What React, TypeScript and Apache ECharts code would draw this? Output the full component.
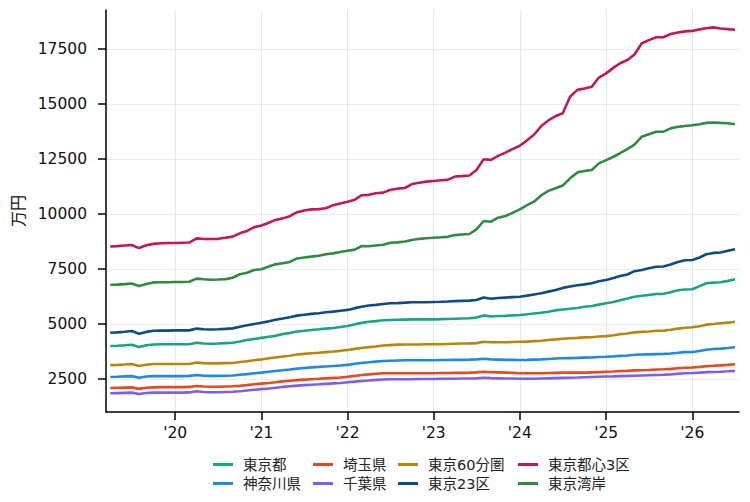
import { useEffect, useRef } from 'react'
import * as echarts from 'echarts'

// monthly series, 2019-04 .. 2026-07 (88 months)
const months = Array.from({ length: 88 }, (_, i) => Date.UTC(2019, 3 + i, 1))

const xTickYears = [2020, 2021, 2022, 2023, 2024, 2025, 2026]
const yTicks = [2500, 5000, 7500, 10000, 12500, 15000, 17500]

const tokyo = [
  4000, 4010, 4030, 4060, 3950, 4030, 4070, 4080, 4080, 4080, 4080, 4080,
  4150, 4110, 4100, 4110, 4130, 4150, 4200, 4270, 4320, 4370, 4420, 4460,
  4540, 4590, 4660, 4690, 4730, 4760, 4790, 4820, 4860, 4910, 4990, 5050,
  5100, 5130, 5170, 5180, 5190, 5200, 5210, 5210, 5210, 5210, 5220, 5230,
  5240, 5250, 5260, 5290, 5390, 5340, 5360, 5370, 5390, 5410, 5440, 5480,
  5510, 5560, 5620, 5660, 5690, 5730, 5780, 5820, 5880, 5940, 6000, 6080,
  6160, 6240, 6280, 6320, 6360, 6370, 6440, 6530, 6570, 6580, 6720, 6850,
  6880, 6900, 6960, 7030,
]
const kanagawa = [
  2590, 2600, 2620, 2630, 2560, 2610, 2630, 2630, 2630, 2630, 2630, 2640,
  2680, 2650, 2640, 2640, 2650, 2660, 2690, 2720, 2760, 2790, 2830, 2860,
  2900, 2930, 2970, 3000, 3030, 3050, 3070, 3090, 3110, 3140, 3190, 3230,
  3260, 3290, 3320, 3330, 3340, 3350, 3350, 3350, 3350, 3350, 3360, 3360,
  3370, 3370, 3380, 3390, 3420, 3390, 3380, 3370, 3370, 3360, 3370, 3380,
  3390, 3410, 3430, 3440, 3450, 3460, 3470, 3480, 3500, 3510, 3530, 3550,
  3570, 3600, 3610, 3620, 3630, 3640, 3660, 3690, 3720, 3730, 3770, 3830,
  3860, 3880, 3910, 3940,
]
const saitama = [
  2090, 2100, 2110, 2120, 2050, 2100, 2120, 2130, 2130, 2130, 2130, 2140,
  2180, 2160, 2150, 2150, 2160, 2170, 2190, 2220, 2260, 2290, 2320, 2350,
  2390, 2420, 2450, 2470, 2490, 2510, 2530, 2550, 2570, 2600, 2640, 2680,
  2710, 2740, 2760, 2760, 2760, 2760, 2760, 2760, 2760, 2760, 2770, 2770,
  2780, 2780, 2790, 2800, 2830, 2810, 2800, 2790, 2780, 2760, 2760, 2760,
  2760, 2770, 2780, 2790, 2790, 2790, 2790, 2800, 2810, 2830, 2840, 2860,
  2870, 2890, 2900, 2910, 2930, 2940, 2960, 2990, 3010, 3020, 3050, 3080,
  3100, 3120, 3140, 3170,
]
const chiba = [
  1850, 1860, 1870, 1880, 1820, 1860, 1880, 1880, 1880, 1880, 1880, 1890,
  1940, 1910, 1900, 1900, 1910, 1920, 1940, 1980, 2010, 2040, 2070, 2100,
  2140, 2170, 2200, 2220, 2240, 2260, 2280, 2300, 2320, 2350, 2380, 2410,
  2430, 2460, 2480, 2490, 2490, 2490, 2490, 2500, 2500, 2500, 2510, 2510,
  2510, 2520, 2520, 2530, 2560, 2540, 2530, 2520, 2520, 2510, 2510, 2510,
  2520, 2530, 2540, 2550, 2560, 2570, 2580, 2590, 2600, 2610, 2620, 2630,
  2640, 2650, 2660, 2670, 2680, 2690, 2710, 2740, 2760, 2770, 2790, 2810,
  2820, 2830, 2850, 2870,
]
const tokyo60 = [
  3130, 3140, 3160, 3180, 3090, 3150, 3180, 3180, 3180, 3180, 3180, 3180,
  3250, 3220, 3210, 3210, 3220, 3230, 3270, 3310, 3350, 3390, 3440, 3480,
  3520, 3560, 3610, 3640, 3670, 3690, 3720, 3750, 3780, 3820, 3870, 3910,
  3950, 3980, 4020, 4040, 4060, 4070, 4070, 4070, 4080, 4080, 4080, 4090,
  4100, 4110, 4120, 4130, 4190, 4170, 4170, 4170, 4180, 4190, 4200, 4220,
  4240, 4270, 4300, 4330, 4350, 4370, 4390, 4400, 4430, 4450, 4490, 4530,
  4570, 4620, 4640, 4660, 4690, 4700, 4740, 4790, 4830, 4850, 4900, 4970,
  5000, 5030, 5060, 5100,
]
const tokyo23 = [
  4600, 4620, 4650, 4680, 4560, 4640, 4690, 4700, 4700, 4710, 4710, 4710,
  4790, 4760, 4750, 4760, 4780, 4800, 4870, 4940, 5000, 5060, 5120, 5190,
  5250, 5310, 5380, 5420, 5460, 5490, 5530, 5560, 5600, 5640, 5720, 5780,
  5840, 5870, 5910, 5940, 5950, 5970, 5990, 5990, 5990, 6000, 6010, 6020,
  6040, 6050, 6060, 6090, 6200, 6150, 6180, 6200, 6220, 6240, 6290, 6340,
  6400, 6470, 6540, 6640, 6700, 6760, 6800, 6850, 6940, 7000, 7090, 7180,
  7250, 7400, 7450, 7530, 7600, 7610, 7700, 7820, 7900, 7910, 8020, 8170,
  8230, 8250, 8330, 8400,
]
const central3 = [
  8520, 8540, 8570, 8590, 8450, 8580, 8640, 8670, 8680, 8680, 8690, 8700,
  8890, 8860, 8860, 8870, 8920, 8970, 9120, 9230, 9400, 9480, 9600, 9730,
  9800, 9900, 10080, 10160, 10210, 10220, 10260, 10400, 10480, 10560, 10650, 10850,
  10870, 10940, 10970, 11100, 11150, 11180, 11360, 11420, 11470, 11500, 11530, 11550,
  11700, 11720, 11750, 12000, 12490, 12460, 12640, 12790, 12950, 13100, 13350, 13600,
  14000, 14250, 14450, 14580, 15330, 15640, 15700, 15780, 16200, 16390, 16650, 16850,
  17000, 17250, 17760, 17900, 18030, 18030, 18180, 18250, 18300, 18320, 18390, 18440,
  18480, 18430, 18400, 18370,
]
const bay = [
  6780, 6790, 6810, 6840, 6730, 6820, 6890, 6900, 6900, 6910, 6910, 6920,
  7060, 7030, 7010, 7020, 7040, 7100, 7260, 7330, 7450, 7490, 7610, 7710,
  7760, 7820, 7980, 8020, 8060, 8100, 8170, 8210, 8270, 8330, 8380, 8540,
  8530, 8570, 8600, 8690, 8710, 8750, 8820, 8870, 8900, 8920, 8940, 8960,
  9040, 9070, 9090, 9300, 9680, 9650, 9830, 9910, 10050, 10210, 10400, 10560,
  10850, 11050, 11170, 11290, 11620, 11890, 11950, 12000, 12300, 12450, 12600, 12760,
  12950, 13150, 13510, 13620, 13740, 13740, 13890, 13960, 14000, 14030, 14080, 14140,
  14160, 14140, 14120, 14080,
]

const seriesNames = ['東京都', '神奈川県', '埼玉県', '千葉県', '東京60分圏', '東京23区', '東京都心3区', '東京湾岸']
const seriesValues = [tokyo, kanagawa, saitama, chiba, tokyo60, tokyo23, central3, bay]
const seriesColors = ['#17a487', '#1e88e5', '#e64a19', '#7c5cff', '#b8860b', '#0d4a86', '#c2185b', '#2e8b40']

// legend columns (column-major, two rows each)
const legendColumns = [
  ['東京都', '神奈川県'],
  ['埼玉県', '千葉県'],
  ['東京60分圏', '東京23区'],
  ['東京都心3区', '東京湾岸'],
]
const legendLefts = [213, 313, 398, 518]

const fontFamily = '"DejaVu Sans", "Noto Sans CJK JP", sans-serif'

export default function App() {
  const chartRef = useRef<HTMLDivElement>(null)

  useEffect(() => {
    if (!chartRef.current) return
    const chart = echarts.init(chartRef.current, null, { renderer: 'svg' })

    const yearStarts = xTickYears.map(y => Date.UTC(y, 0, 1))

    const option = {
      animation: false,
      backgroundColor: '#fff',
      textStyle: { fontFamily },
      grid: { left: 106, right: 11, top: 10, bottom: 90 },
      legend: legendColumns.map((items, i) => ({
        data: items,
        orient: 'vertical',
        left: legendLefts[i],
        top: 457,
        padding: 0,
        itemGap: 4,
        itemWidth: 20,
        itemHeight: 3,
        icon: 'rect',
        selectedMode: false,
        textStyle: { fontFamily, fontSize: 14.5, color: '#222', lineHeight: 15, padding: [0, 0, 0, 5] },
      })),
      xAxis: {
        type: 'value',
        min: Date.UTC(2019, 2, 14),
        max: Date.UTC(2026, 6, 18),
        axisLine: { show: true, onZero: false, lineStyle: { color: '#000', width: 1.5 } },
        axisTick: { show: true, length: 8, lineStyle: { color: '#000', width: 1.5 }, customValues: yearStarts },
        axisLabel: {
          customValues: yearStarts,
          margin: 13,
          fontSize: 15.5,
          color: '#111',
          fontFamily,
          formatter: (v: number) => "'" + String(new Date(v).getUTCFullYear()).slice(2),
        },
        splitLine: { show: true, lineStyle: { color: '#e8e8e8', width: 1 } },
      },
      yAxis: {
        type: 'value',
        min: 1000,
        max: 19270,
        name: '万円',
        nameLocation: 'middle',
        nameGap: 80,
        nameTextStyle: { fontSize: 16, color: '#111', fontFamily },
        axisLine: { show: true, lineStyle: { color: '#000', width: 1.5 } },
        axisTick: { show: true, length: 8, lineStyle: { color: '#000', width: 1.5 }, customValues: yTicks },
        axisLabel: {
          customValues: yTicks,
          margin: 19,
          fontSize: 15.5,
          color: '#111',
          fontFamily,
          formatter: (v: number) => String(v),
        },
        splitLine: { show: true, lineStyle: { color: '#ececec', width: 1 } },
      },
      series: seriesNames.map((name, i) => ({
        name,
        type: 'line',
        showSymbol: false,
        symbol: 'none',
        color: seriesColors[i],
        lineStyle: { width: 2.6, color: seriesColors[i] },
        data: seriesValues[i].map((v, j) => [months[j], v]),
      })),
    }

    chart.setOption(option)
    return () => chart.dispose()
  }, [])

  return <div ref={chartRef} style={{ position: 'fixed', left: 0, top: 0, width: 750, height: 502 }} />
}
